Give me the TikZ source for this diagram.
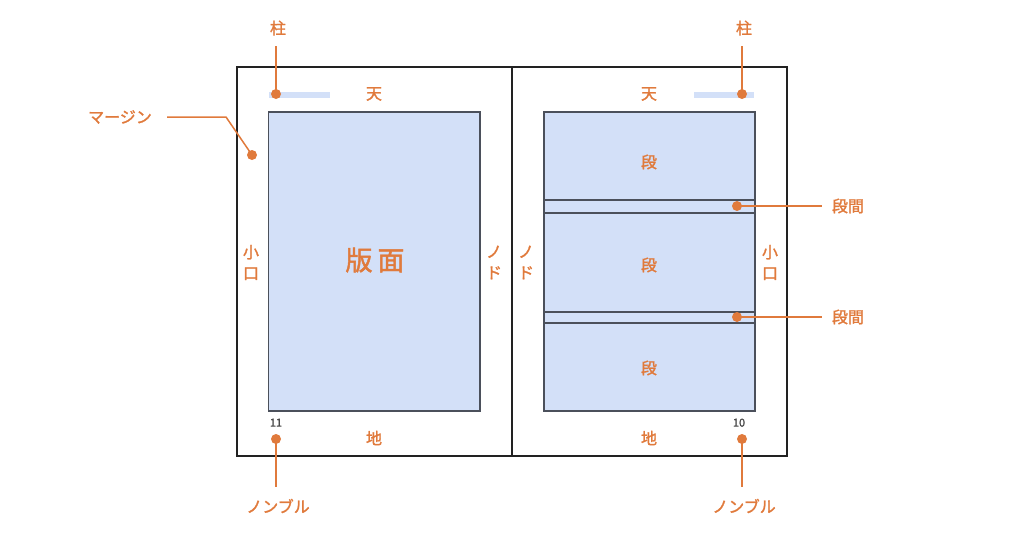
\documentclass[tikz,border=0pt]{standalone}
\usepackage{fontspec}
\newfontfamily\jp{Noto Sans CJK JP}
\newfontfamily\jpm{Noto Sans CJK JP}[FakeBold=1.6]
\usetikzlibrary{positioning}

\definecolor{orangeetiq}{HTML}{E07A3C}
\definecolor{bleuzone}{HTML}{D3E0F8}
\definecolor{bordzone}{HTML}{4B505B}
\definecolor{cadre}{HTML}{222222}
\definecolor{grisnum}{HTML}{4A4A4A}

\tikzset{
  etiq/.style={text=orangeetiq, font=\jpm\fontsize{16}{21}\selectfont, inner sep=0, align=center},
  point/.style={circle, fill=orangeetiq, inner sep=0, minimum size=10pt},
  trait/.style={draw=orangeetiq, line width=1.5pt},
  zone/.style={draw=bordzone, fill=bleuzone, line width=1.8pt},
  numpage/.style={text=grisnum, font=\jpm\fontsize{11}{11}\selectfont, inner sep=0}
}

\begin{document}
\begin{tikzpicture}[x=1pt, y=-1pt]
  \useasboundingbox (0,0) rectangle (1024,536);

  % Cadre et pli
  \draw[cadre, line width=1.8pt] (237,66.7) rectangle (787,456);
  \draw[cadre, line width=1.8pt] (512,66.7) -- (512,456);

  % Zones de texte
  \draw[zone] (268.5,111.7) rectangle (480,411);
  \draw[zone] (544,111.7) rectangle (755,411);
  \foreach \y in {200,212.7,311.7,323.3} {
    \draw[bordzone, line width=1.8pt] (544,\y) -- (755,\y);
  }

  % Colonnes (barres)
  \fill[bleuzone] (269,91.5) rectangle (330,97.5);
  \fill[bleuzone] (694,91.5) rectangle (754,97.5);

  % Textes dans la page
  \node[etiq, font=\jpm\fontsize{27}{27}\selectfont] (hanmen) at (375,260) {版\hspace{5pt}面};
  \foreach \nom/\x/\y/\texte in {teng/374/94/天, tend/649/94/天, chig/374/438/地, chid/649/438/地,
      koguchig/251/262.5/小\\口, koguchid/770/262.5/小\\口, nodog/494/262.5/ノ\\ド, nodod/526/262.5/ノ\\ド,
      dan1/649/162/段, dan2/649/265/段, dan3/649/368/段} {
    \node[etiq] (\nom) at (\x,\y) {\texte};
  }
  \node[numpage] (num11) at (276,422.7) {11};
  \node[numpage] (num10) at (739,422.7) {10};

  % Renvois verticaux
  \foreach \nom/\x/\ypt/\yfin/\yetiq/\texte in {colg/276/94/46/28/柱, cold/742/94/46/28/柱,
      nombg/276/439/487/506/ノンブル, nombd/742/439/487/506/ノンブル} {
    \coordinate (f\nom) at (\x,\yfin);
    \node[etiq] (e\nom) at (\x+2,\yetiq) {\texte};
    \draw[trait] (\x,\ypt) -- (f\nom);
    \node[point] (p\nom) at (\x,\ypt) {};
  }

  % Renvois horizontaux
  \foreach \nom/\y in {kan1/206, kan2/317} {
    \coordinate (f\nom) at (822,\y);
    \node[etiq] (e\nom) at (848,\y) {段間};
    \draw[trait] (737,\y) -- (f\nom);
    \node[point] (p\nom) at (737,\y) {};
  }

  % Marge
  \coordinate (coude) at (226,117);
  \coordinate (fmarge) at (167,117);
  \node[etiq] (emarge) at (120,117) {マージン};
  \draw[trait] (252,155) -- (coude) -- (fmarge);
  \node[point] (pmarge) at (252,155) {};
\end{tikzpicture}
\end{document}
